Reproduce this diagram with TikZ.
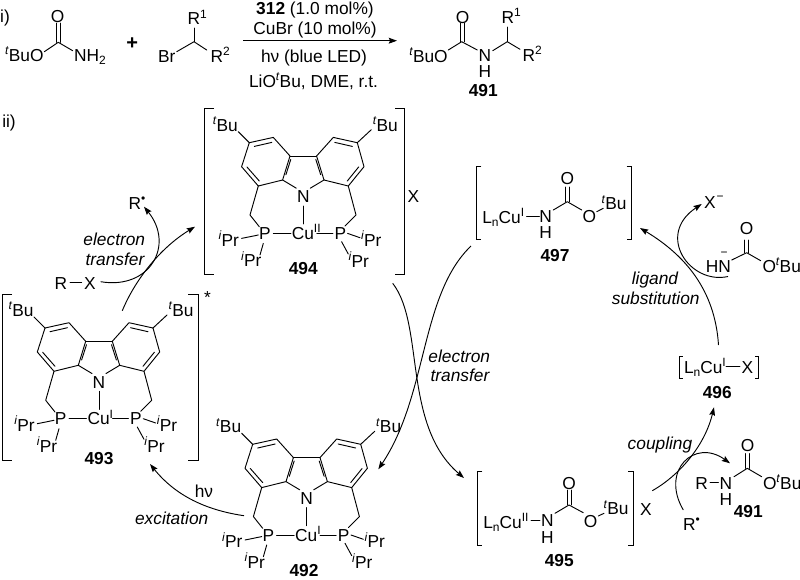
\documentclass[tikz,border=0pt]{standalone}
\usepackage{fontspec}
\setmainfont{Liberation Sans}
\usetikzlibrary{arrows.meta}
\tikzset{
  every node/.style={font=\fontsize{13}{15}\selectfont,inner sep=0pt,outer sep=0pt},
  lab/.style={anchor=base,yshift=-0.4pt},
  labw/.style={anchor=base west,yshift=-0.4pt},
  labe/.style={anchor=base east,yshift=-0.4pt},
  ital/.style={font=\itshape\fontsize{13}{15}\selectfont},
  bond/.style={draw,line width=0.7pt,line cap=round,line join=round},
  brk/.style={draw,line width=0.7pt,line join=miter},
  arw/.style={draw,line width=0.7pt,-{Stealth[length=6.2pt,width=4.4pt,inset=1pt]}},
}
\newcommand{\sps}[1]{\raisebox{5pt}{\fontsize{9}{9}\selectfont #1}}
\newcommand{\sbs}[1]{\raisebox{-2.4pt}{\fontsize{9}{9}\selectfont #1}}
\newcommand{\tBu}{\sps{\textit{t}}Bu}
\newcommand{\iPr}{\sps{\textit{i}}Pr}
\newcommand{\LnCu}[1]{L\sbs{n}Cu\sps{#1}}
% carbazole bisphosphine ligand: #1 = position of N, #2 = name, #3 = oxidation state
\newcommand{\ligand}[3]{%
\begin{scope}[shift={#1}]
  \node[lab] (N#2) at (0,5.7) {N};
  \node[labw] (Cu#2) at (-11.5,42.4) {Cu\sps{#3}};
  \node[lab] (PL#2) at (-38.3,42.4) {P};
  \node[lab] (PR#2) at (37,42.4) {P};
  \node[lab] (tL#2) at (-78,-66) {\tBu};
  \node[lab] (tR#2) at (82,-66) {\tBu};
  \node[lab] (iL#2) at (-74.5,49) {\iPr};
  \node[lab] (iLb#2) at (-52,69.5) {\iPr};
  \node[lab] (iR#2) at (68,49) {\iPr};
  \node[lab] (iRb#2) at (55.5,70) {\iPr};
  % rings
  \path[bond] (-20.7,-16.7) -- (-45,-10.7) -- (-61.7,-30) -- (-54,-54) -- (-30,-59.3) -- (-13.3,-40.7) -- cycle;
  \path[bond] (20.7,-16.7) -- (45,-10.7) -- (60.7,-30) -- (54,-54) -- (30,-59.3) -- (13.3,-40.7) -- cycle;
  \path[bond] (-13.3,-40.7) -- (13.3,-40.7);
  \path[bond] (-20.7,-16.7) -- (-7,-8.5) (20.7,-16.7) -- (7,-8.5);
  % inner double bonds
  \path[bond] (-49,-50.3) -- (-31.5,-54.3);
  \path[bond] (-17.4,-22) -- (-12.5,-37.3);
  \path[bond] (-44,-15.7) -- (-56.4,-29.8);
  \path[bond] (49,-50.3) -- (31.5,-54.3);
  \path[bond] (17.4,-22) -- (12.5,-37.3);
  \path[bond] (44,-15.7) -- (55.4,-29.8);
  % tBu bonds
  \path[bond] (-65,-65) -- (-54,-54);
  \path[bond] (68,-67) -- (54,-54);
  % arms
  \path[bond] (-45,-10.7) -- (-53.3,18.3) -- (-44,30);
  \path[bond] (45,-10.7) -- (52.7,18.3) -- (41.7,29.3);
  % metal
  \path[bond] (0,9.3) -- (0,27.3);
  \path[bond] (-30,36.7) -- (-12.5,36.7);
  \path[bond] (13.5,36.7) -- (29.5,36.7);
  % iPr
  \path[bond] (-61.7,41.7) -- (-45,38.3);
  \path[bond] (-40,46.7) -- (-43.3,58.3);
  \path[bond] (44.3,36.7) -- (56.7,41);
  \path[bond] (38.3,45) -- (45,57.3);
\end{scope}}
\begin{document}
\begin{tikzpicture}[x=0.75pt,y=-0.75pt]
\path[use as bounding box] (0,0) rectangle (800,579);

% ---- part i
\node[lab] (i1) at (5,22) {i)};
\node[lab] (ii1) at (9,127) {ii)};

\node[labe] (a1) at (43.5,61) {\tBu O};
\node[lab] (a2) at (57.7,22) {O};
\node[labw] (a3) at (74,61) {NH\sbs{2}};
\path[bond] (44.3,51.7) -- (58.3,42.3) -- (72.7,50.7);
\path[bond] (56,42.3) -- (56,23) (60,42.3) -- (60,23);

\node[lab,font=\bfseries\fontsize{15}{16}\selectfont] (plus) at (132.3,49) {+};

\node[lab] (b1) at (166.7,61.5) {Br};
\node[lab] (b2) at (194,24) {R};
\node[labw] at (200,17.5) {\fontsize{9}{9}\selectfont 1};
\node[labw] (b3) at (210.5,62) {R\sps{2}};
\path[bond] (176.7,51.7) -- (194,41.7) -- (206.7,50);
\path[bond] (194,41.7) -- (194,28);

\node[lab] (c1) at (315,14) {\textbf{312} (1.0 mol\%)};
\node[lab] (c2) at (315,34) {CuBr (10 mol\%)};
\node[lab] (c3) at (314,62) {hν (blue LED)};
\node[lab] (c4) at (313.5,87) {LiO\tBu, DME, r.t.};
\coordinate (c5) at (243,40.7);
\coordinate (c6) at (397,40.7);
\path[arw] (c5) -- (c6);

\node[labe] (d1) at (447.7,61.5) {\tBu O};
\node[lab] (d2) at (462.7,22.5) {O};
\node[lab] (d3) at (485,60.5) {N};
\node[lab] (d4) at (485,77) {H};
\node[labw] (d5) at (501.5,23) {R\sps{1}};
\node[labw] (d6) at (522.5,61) {R\sps{2}};
\node[lab] (d7) at (483.3,96) {\textbf{491}};
\path[bond] (448.3,50) -- (461.7,41.7) -- (477.3,50);
\path[bond] (460,41.7) -- (460,23) (464,41.7) -- (464,23);
\path[bond] (492.7,50.7) -- (507.3,41.7) -- (520,49.3);
\path[bond] (507.3,41.7) -- (507.3,27);

% ---- ligands
\ligand{(303.3,196.7)}{A}{II}
\ligand{(99,382)}{B}{I}
\ligand{(306.7,498.3)}{C}{I}

% 494 brackets
\path[brk] (214,108.3) -- (204,108.3) -- (204,274) -- (214,274);
\path[brk] (395,108.3) -- (404.5,108.3) -- (404.5,274.5) -- (395,274.5);
\node[lab] (L494) at (303.3,273.5) {\textbf{494}};
\node[lab] (X494) at (413.3,201.5) {X};

% 493 brackets
\path[brk] (12,294) -- (2,294) -- (2,460.7) -- (12,460.7);
\path[brk] (188,294) -- (198.3,294) -- (198.3,460.7) -- (188,460.7);
\node[lab] (star) at (207.5,303) {*};
\node[lab] (L493) at (99,464) {\textbf{493}};
\node[lab] (L492) at (304,576) {\textbf{492}};

% R-X, R dot
\node[lab] (RX1) at (61,289) {R};
\node[lab] (RX2) at (90,289) {X};
\path[bond] (70,282.5) -- (81.7,282.5);
\node[labw] (Rdot) at (128.5,209) {R\sps{•}};
\node[lab,ital] (et1) at (114.3,244.5) {electron};
\node[lab,ital] (et2) at (115,264.5) {transfer};

\coordinate (s1) at (100.7,281.7);
\coordinate (e1) at (144,206.7);
\path[arw] (s1) .. controls (150,290) and (175,245) .. (e1);
\coordinate (s2) at (122.3,310.7);
\coordinate (e2) at (195,226.7);
\path[arw] (s2) .. controls (135,280) and (160,248) .. (e2);

% excitation
\coordinate (s3) at (244,515.7);
\coordinate (e3) at (150,464);
\path[arw] (s3) .. controls (205,510) and (175,495) .. (e3);
\node[lab] (hv) at (204,497) {hν};
\node[lab,ital] (exc) at (171.7,523.5) {excitation};

% central electron transfer
\coordinate (s4) at (392.7,283.3);
\coordinate (e4) at (464,478);
\path[arw] (s4) .. controls (425,325) and (402,425) .. (e4);
\coordinate (s5) at (471,246);
\coordinate (e5) at (378.3,469.3);
\path[arw] (s5) .. controls (420,295) and (428,395) .. (e5);
\node[lab,ital] (et3) at (459.3,361.5) {electron};
\node[lab,ital] (et4) at (460,381) {transfer};

% 497
\path[brk] (481.3,166) -- (476,166) -- (476,239) -- (481.3,239);
\path[brk] (626.7,166) -- (631.7,166) -- (631.7,239) -- (626.7,239);
\node[labw] (g1) at (482.3,222.5) {\LnCu{I}};
\path[bond] (526.7,216) -- (539.3,216);
\node[lab] (g2) at (545.7,221.5) {N};
\node[lab] (g3) at (545.7,238) {H};
\path[bond] (553.3,210) -- (567.3,201.7) -- (581.7,210);
\path[bond] (565.3,201.7) -- (565.3,187) (569.3,201.7) -- (569.3,187);
\node[lab] (g4) at (567.3,184) {O};
\node[lab] (g5) at (589.3,221.5) {O};
\path[bond] (596.7,211.7) -- (603.3,208.3);
\node[labw] (g6) at (601.5,209.3) {\tBu};
\node[lab] (L497) at (555,261) {\textbf{497}};

% X- / carbamate anion
\node[lab] (xm) at (710,208) {X};
\node[lab] at (720,200) {\fontsize{9}{9}\selectfont −};
\node[lab] (hn) at (718.3,272) {HN};
\node[lab] at (724,255.5) {\fontsize{9}{9}\selectfont −};
\path[bond] (731.7,260) -- (746.7,252.7) -- (760.7,260.7);
\path[bond] (744.7,252.7) -- (744.7,240) (748.7,252.7) -- (748.7,240);
\node[lab] (h1) at (746.7,234) {O};
\node[labw] (h2) at (762.5,272) {O\tBu};
\coordinate (s6) at (718.5,345);
\coordinate (e6) at (640,228);
\path[arw] (s6) .. controls (715,290) and (685,255) .. (e6);
\coordinate (s7) at (728,276.5);
\coordinate (e7) at (701.7,204);
\path[arw] (s7) .. controls (690,285) and (655,235) .. (e7);
\node[lab,ital] (ls1) at (655,284) {ligand};
\node[lab,ital] (ls2) at (655.7,304) {substitution};

% 496
\path[brk] (682.5,356.7) -- (679.3,356.7) -- (679.3,378.3) -- (682.5,378.3);
\path[brk] (755,356.7) -- (758.3,356.7) -- (758.3,378.3) -- (755,378.3);
\node[labw] (k1) at (684,372.5) {\LnCu{I}};
\path[bond] (726,366.7) -- (740,366.7);
\node[lab] (k2) at (747.3,372.5) {X};
\node[lab] (L496) at (717.3,398) {\textbf{496}};

% 495
\path[brk] (482.3,471.7) -- (477.3,471.7) -- (477.3,545) -- (482.3,545);
\path[brk] (628.3,471.7) -- (633.3,471.7) -- (633.3,545) -- (628.3,545);
\node[labw] (m1) at (483.3,528) {\LnCu{II}};
\path[bond] (531,520) -- (540,520);
\node[lab] (m2) at (547.3,526) {N};
\node[lab] (m3) at (547.3,542.5) {H};
\path[bond] (555,513.3) -- (569,505) -- (583.3,512.7);
\path[bond] (567,505) -- (567,490) (571,505) -- (571,490);
\node[lab] (m4) at (569,489) {O};
\node[lab] (m5) at (590.7,527) {O};
\path[bond] (598.3,516) -- (604,513.3);
\node[labw] (m6) at (603.5,514.3) {\tBu};
\node[lab] (m7) at (646,515) {X};
\node[lab] (L495) at (559.3,566) {\textbf{495}};

% coupling
\coordinate (s8) at (652.3,490.7);
\coordinate (e8) at (714,407.3);
\path[arw] (s8) .. controls (680,475) and (705,445) .. (e8);
\coordinate (s9) at (683.3,510);
\coordinate (e9) at (730,463.3);
\path[arw] (s9) .. controls (660,470) and (695,438) .. (e9);
\node[lab,ital] (cp) at (660,449) {coupling};
\node[labw] (Rdot2) at (683,529.5) {R\sps{•}};

% 491 lower right
\node[lab] (n1) at (701.7,489) {R};
\path[bond] (710,482.7) -- (718.3,482.7);
\node[lab] (n2) at (726,488.5) {N};
\node[lab] (n3) at (726,505) {H};
\path[bond] (734,476.7) -- (747.3,468.3) -- (761.7,476.7);
\path[bond] (745.3,468.3) -- (745.3,453.5) (749.3,468.3) -- (749.3,453.5);
\node[lab] (n4) at (747.7,451) {O};
\node[labw] (n5) at (763,489) {O\tBu};
\node[lab] (L491) at (748.3,516.5) {\textbf{491}};
\end{tikzpicture}
\end{document}
